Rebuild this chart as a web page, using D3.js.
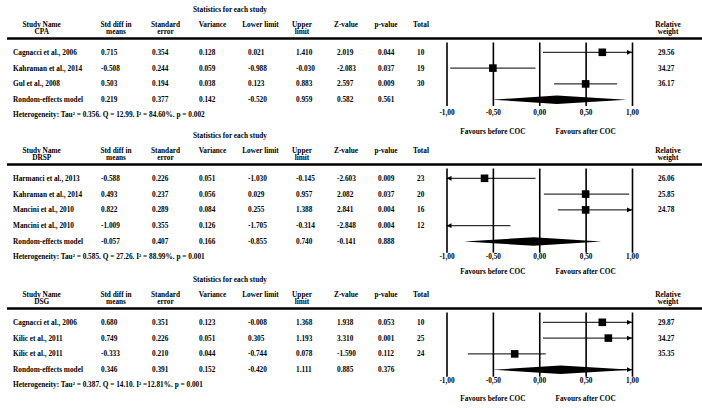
<!DOCTYPE html>
<html>
<head>
<meta charset="utf-8">
<script src="https://cdn.jsdelivr.net/npm/d3@7"></script>
<style>
  html, body { margin: 0; padding: 0; background: #fff; }
  svg text { font-family: "Liberation Serif", "Times New Roman", serif; font-weight: bold; fill: #000; }
</style>
</head>
<body>
<svg id="chart" width="702" height="408"></svg>
<script>
// ---------------- DATA ----------------
const tickValues = [-1, -0.5, 0, 0.5, 1];
const summaryLabel = "Rondom-effects model";

// CPA
const cpaStudies  = ["Cagnacci et al., 2006", "Kahraman et al., 2014", "Gul et al., 2008"];
const cpaStdDiff  = [0.715, -0.508, 0.503, 0.219];
const cpaStdErr   = [0.354, 0.244, 0.194, 0.377];
const cpaVariance = [0.128, 0.059, 0.038, 0.142];
const cpaLower    = [0.021, -0.988, 0.123, -0.520];
const cpaUpper    = [1.410, -0.030, 0.883, 0.959];
const cpaZ        = [2.019, -2.083, 2.597, 0.582];
const cpaP        = [0.044, 0.037, 0.009, 0.561];
const cpaTotal    = [10, 19, 30];
const cpaWeight   = [29.56, 34.27, 36.17];
// positions as drawn in the forest plot (estimate, low, high; last = summary)
const cpaPlotEst  = [0.68, -0.50, 0.50, 0.19];
const cpaPlotLo   = [0.04, -0.96, 0.16, -0.51];
const cpaPlotHi   = [1.41, -0.04, 0.84, 0.94];
const cpaHetero   = "Heterogeneity: Tau² = 0.356. Q = 12.99. I² = 84.60%. p = 0.002";

// DRSP
const drspStudies  = ["Harmanci et al., 2013", "Kahraman et al., 2014", "Mancini et al., 2010", "Mancini et al., 2010"];
const drspStdDiff  = [-0.588, 0.493, 0.822, -1.009, -0.057];
const drspStdErr   = [0.226, 0.237, 0.289, 0.355, 0.407];
const drspVariance = [0.051, 0.056, 0.084, 0.126, 0.166];
const drspLower    = [-1.030, 0.029, 0.255, -1.705, -0.855];
const drspUpper    = [-0.145, 0.957, 1.388, -0.314, 0.740];
const drspZ        = [-2.603, 2.082, 2.841, -2.848, -0.141];
const drspP        = [0.009, 0.037, 0.004, 0.004, 0.888];
const drspTotal    = [23, 20, 16, 12];
const drspWeight   = [26.06, 25.85, 24.78];
const drspPlotEst  = [-0.59, 0.50, 0.50, -1.009, -0.06];
const drspPlotLo   = [-1.03, 0.05, 0.20, -1.705, -0.81];
const drspPlotHi   = [-0.04, 0.97, 1.388, -0.31, 0.67];
const drspHetero   = "Heterogeneity: Tau² = 0.585. Q = 27.26. I² = 88.99%. p = 0.001";

// DSG
const dsgStudies  = ["Cagnacci et al., 2006", "Kilic et al., 2011", "Kilic et al., 2011"];
const dsgStdDiff  = [0.680, 0.749, -0.333, 0.346];
const dsgStdErr   = [0.351, 0.226, 0.210, 0.391];
const dsgVariance = [0.123, 0.051, 0.044, 0.152];
const dsgLower    = [-0.008, 0.305, -0.744, -0.420];
const dsgUpper    = [1.368, 1.193, 0.078, 1.111];
const dsgZ        = [1.938, 3.310, -1.590, 0.885];
const dsgP        = [0.053, 0.001, 0.112, 0.376];
const dsgTotal    = [10, 25, 24];
const dsgWeight   = [29.87, 34.27, 35.35];
const dsgPlotEst  = [0.68, 0.745, -0.265, 0.23];
const dsgPlotLo   = [0.04, 0.04, -0.77, -0.50];
const dsgPlotHi   = [1.368, 1.193, 0.07, 1.111];
const dsgHetero   = "Heterogeneity: Tau² = 0.387. Q = 14.10. I² =12.81%. p = 0.001";

// ---------------- BUILD ----------------
const panels = [
  { name: "CPA", studies: cpaStudies, cols: [cpaStdDiff, cpaStdErr, cpaVariance, cpaLower, cpaUpper, cpaZ, cpaP],
    total: cpaTotal, weight: cpaWeight, est: cpaPlotEst, lo: cpaPlotLo, hi: cpaPlotHi, hetero: cpaHetero },
  { name: "DRSP", studies: drspStudies, cols: [drspStdDiff, drspStdErr, drspVariance, drspLower, drspUpper, drspZ, drspP],
    total: drspTotal, weight: drspWeight, est: drspPlotEst, lo: drspPlotLo, hi: drspPlotHi, hetero: drspHetero },
  { name: "DSG", studies: dsgStudies, cols: [dsgStdDiff, dsgStdErr, dsgVariance, dsgLower, dsgUpper, dsgZ, dsgP],
    total: dsgTotal, weight: dsgWeight, est: dsgPlotEst, lo: dsgPlotLo, hi: dsgPlotHi, hetero: dsgHetero }
];

// layout
const layout = [
  { base: 38.5,  lineBottom: 106,   tickPad: 4.3, favY: 131 },
  { base: 164.5, lineBottom: 252.7, tickPad: 1.5, favY: 271 },
  { base: 308.5, lineBottom: 376.7, tickPad: 1.5, favY: 398.3 }
];
const FS = 7.3;
const rowStep = 15.8;
const valueX = [101, 152, 199, 248, 296, 337, 378];
const totalX = 417, weightX = 658, nameX = 13;
const headers = [
  { x: 41.7, lines: ["Study Name", null] },
  { x: 116, lines: ["Std diff in", "means"] },
  { x: 165.5, lines: ["Standard", "error"] },
  { x: 212.5, lines: ["Variance"] },
  { x: 260.5, lines: ["Lower limit"] },
  { x: 302, lines: ["Upper", "limit"] },
  { x: 346, lines: ["Z-value"] },
  { x: 386, lines: ["p-value"] },
  { x: 421, lines: ["Total"] },
  { x: 668, lines: ["Relative", "weight"] }
];

const svg = d3.select("#chart");
const x = d3.scaleLinear().domain([-1, 1]).range([446.5, 632]);
const commaLocale = d3.formatLocale({ decimal: ",", thousands: ".", grouping: [3], currency: ["", ""], minus: "-" });
const tickFmt = commaLocale.format(".2f");

function txt(g, xx, yy, s, anchor) {
  return g.append("text").attr("x", xx).attr("y", yy).attr("dy", "0.35em")
    .attr("text-anchor", anchor || "start").attr("font-size", FS).text(s);
}

panels.forEach((p, pi) => {
  const L = layout[pi];
  const g = svg.append("g");
  const b = L.base;

  // title
  txt(g, 230, b - 28.8, "Statistics for each study", "middle");
  // headers
  headers.forEach((h, hi) => {
    const l1 = h.lines[0];
    const l2 = hi === 0 ? p.name : h.lines[1];
    txt(g, h.x, b - 14.3, l1, "middle");
    if (l2) txt(g, h.x, b - 6.8, l2, "middle");
  });
  // thick rule
  g.append("line").attr("x1", 7).attr("x2", 702).attr("y1", b).attr("y2", b)
    .attr("stroke", "#000").attr("stroke-width", 2.6);

  const nRows = p.studies.length + 1;
  const rowY = i => b + 13.8 + i * rowStep;
  const names = p.studies.concat([summaryLabel]);

  names.forEach((nm, i) => {
    const y = rowY(i);
    txt(g, nameX, y, nm);
    p.cols.forEach((col, ci) => txt(g, valueX[ci], y, col[i].toFixed(3)));
    if (i < p.total.length) txt(g, totalX, y, String(p.total[i]));
    if (i < p.weight.length) txt(g, weightX, y, p.weight[i].toFixed(2));
  });
  txt(g, nameX, rowY(nRows - 1) + 15.2, p.hetero);

  // axis with vertical gridlines
  const top = b + 4;
  const axis = d3.axisBottom(x).tickValues(tickValues).tickFormat(tickFmt)
    .tickSizeInner(-(L.lineBottom - top)).tickSizeOuter(0).tickPadding(L.tickPad);
  const ag = g.append("g").attr("transform", `translate(0,${L.lineBottom})`).call(axis);
  ag.select(".domain").remove();
  ag.selectAll(".tick line").attr("stroke", "#000").attr("stroke-width", 1.6);
  ag.selectAll(".tick text").attr("font-size", FS).attr("font-family", null).attr("fill", "#000");

  // study rows
  const [dmin, dmax] = x.domain();
  const clamp = v => Math.max(dmin, Math.min(dmax, v));
  const fg = g.append("g");
  for (let i = 0; i < p.studies.length; i++) {
    const y = rowY(i);
    const lo = clamp(p.lo[i]), hi = clamp(p.hi[i]);
    fg.append("line").attr("x1", x(lo)).attr("x2", x(hi)).attr("y1", y).attr("y2", y)
      .attr("stroke", "#000").attr("stroke-width", 1);
    if (p.hi[i] > dmax) {
      const xe = x(dmax);
      fg.append("path").attr("d", `M${xe},${y} L${xe - 5},${y - 2.4} L${xe - 5},${y + 2.4} Z`).attr("fill", "#000");
    }
    if (p.lo[i] < dmin) {
      const xs = x(dmin);
      fg.append("path").attr("d", `M${xs},${y} L${xs + 5},${y - 2.4} L${xs + 5},${y + 2.4} Z`).attr("fill", "#000");
    }
    const e = p.est[i];
    if (e >= dmin && e <= dmax) {
      const s = 7.6;
      fg.append("rect").attr("x", x(e) - s / 2).attr("y", y - s / 2).attr("width", s).attr("height", s).attr("fill", "#000");
    }
  }
  // summary diamond
  const sy = rowY(nRows - 1);
  const si = p.est.length - 1;
  const dl = clamp(p.lo[si]), dr = clamp(p.hi[si]);
  fg.append("path")
    .attr("d", `M${x(dl)},${sy} L${x(p.est[si])},${sy - 4.2} L${x(dr)},${sy} L${x(p.est[si])},${sy + 4.2} Z`)
    .attr("fill", "#000");
  if (p.hi[si] > dmax) {
    const xe = x(dmax);
    fg.append("path").attr("d", `M${xe},${sy} L${xe - 5},${sy - 2.4} L${xe - 5},${sy + 2.4} Z`).attr("fill", "#000");
    fg.append("line").attr("x1", x(dmax) - 12).attr("x2", xe).attr("y1", sy).attr("y2", sy).attr("stroke", "#000");
  }

  // favours labels
  txt(g, x(-0.5), L.favY, "Favours before COC", "middle");
  txt(g, x(0.5), L.favY, "Favours after COC", "middle");
});
</script>
</body>
</html>
